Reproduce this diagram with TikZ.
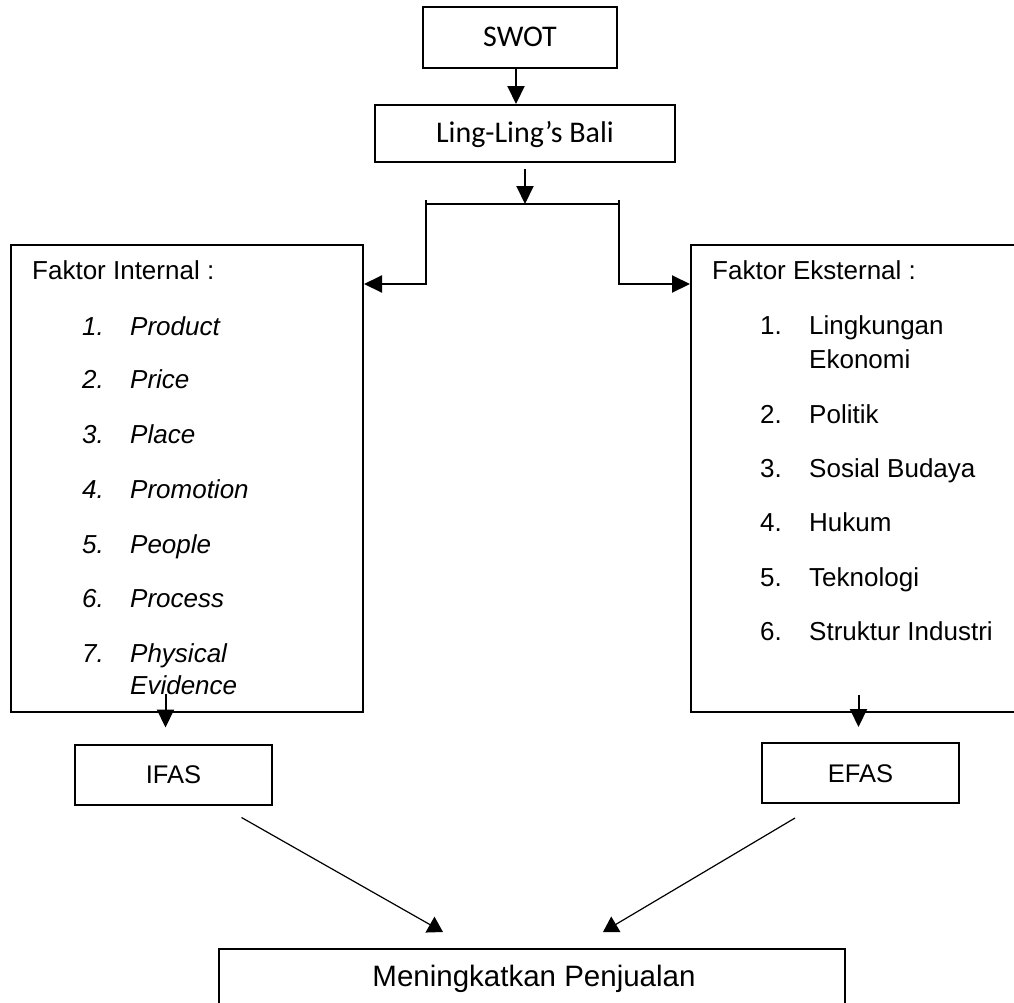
\documentclass[tikz,border=0pt]{standalone}
\usepackage{fontspec}
\setmainfont{Liberation Sans}
\newfontfamily\calfont{Carlito}
\usetikzlibrary{arrows.meta}

\tikzset{
  box/.style={draw, line width=2pt, inner sep=0pt, text depth=0pt, text height=18.5pt},
  item/.style={anchor=base west, inner sep=0pt, font=\fontsize{26}{31}\selectfont},
  arr/.style={-{Triangle[length=18pt,width=17pt]}, line width=2pt},
  slant/.style={-{Triangle[length=15pt,width=18pt]}, line width=1.2pt}
}

\begin{document}
\begin{tikzpicture}[x=1pt,y=-1pt]
\useasboundingbox (0,0) rectangle (1014,1002);
% top of the chart
\node[box, font=\calfont\fontsize{30}{35}\selectfont, minimum width=194pt, minimum height=61pt] (swot) at (520,37.5) {SWOT};
\node[box, font=\calfont\fontsize{30}{35}\selectfont, minimum width=300pt, minimum height=57pt] (ling) at (525,133.5) {Ling-Ling’s Bali};
\draw[arr] ([xshift=-4pt]swot.south) -- ([xshift=-4pt]swot.south |- ling.north);

% split into the two factor boxes
\coordinate (split) at (525,204);
\coordinate (brL) at (426,204);
\coordinate (brR) at (619,204);
\coordinate (kneeL) at (426,284);
\coordinate (kneeR) at (619,284);
\draw[arr] ([yshift=-6pt]ling.south) -- (split);
\draw[line width=2pt] (brL) -- (brR);

\node[box, minimum width=352pt, minimum height=467pt] (intern) at (187,478.5) {};
\node[box, minimum width=325pt, minimum height=467pt] (extern) at (853.5,478.5) {};
\draw[arr] ([yshift=4pt]brL) -- (kneeL) -- (kneeL -| intern.east);
\draw[arr] ([yshift=4pt]brR) -- (kneeR) -- (kneeR -| extern.west);

% internal factors
\node[item] (ihead) at (32,279) {Faktor Internal :};
\foreach \n/\txt/\y in {1/Product/335, 2/Price/388, 3/Place/443, 4/Promotion/498,
                        5/People/553, 6/Process/607, 7/Physical/662} {
  \node[item, font=\fontsize{26}{31}\selectfont\itshape] (inum\n) at (82,\y) {\n.};
  \node[item, font=\fontsize{26}{31}\selectfont\itshape] (itxt\n) at (130,\y) {\txt};
}
\node[item, font=\fontsize{26}{31}\selectfont\itshape] (itxt7b) at (130,694) {Evidence};

% external factors
\node[item] (ehead) at (712,279) {Faktor Eksternal :};
\foreach \n/\txt/\y in {1/Lingkungan/334, 2/Politik/423, 3/Sosial Budaya/477,
                        4/Hukum/531, 5/Teknologi/586, 6/Struktur Industri/640} {
  \node[item] (enum\n) at (760,\y) {\n.};
  \node[item] (etxt\n) at (809,\y) {\txt};
}
\node[item] (etxt1b) at (809,368) {Ekonomi};

% matrices
\node[box, font=\fontsize{25.5}{30}\selectfont, minimum width=197pt, minimum height=60pt] (ifas) at (173.5,774.5) {IFAS};
\node[box, font=\fontsize{25.5}{30}\selectfont, minimum width=197pt, minimum height=60pt] (efas) at (860.5,773) {EFAS};
\coordinate (ifasin) at ([xshift=-8pt,yshift=16pt]ifas.north);
\coordinate (efasin) at ([xshift=-2pt,yshift=15pt]efas.north);
\draw[arr] (ifasin |- intern.south) ++(0,-19) -- (ifasin);
\draw[arr] (efasin |- extern.south) ++(0,-18) -- (efasin);

% goal
\node[box, minimum width=626pt, minimum height=82pt] (goal) at (532,990) {};
\node[anchor=base, inner sep=0pt, font=\fontsize{29.5}{34}\selectfont] (goaltext) at (534,986) {Meningkatkan Penjualan};
\draw[slant] ([xshift=68pt,yshift=-12pt]ifas.south) -- ([xshift=-89pt,yshift=16pt]goal.north);
\draw[slant] ([xshift=-65.5pt,yshift=-14pt]efas.south) -- ([xshift=71pt,yshift=16pt]goal.north);
\end{tikzpicture}
\end{document}
